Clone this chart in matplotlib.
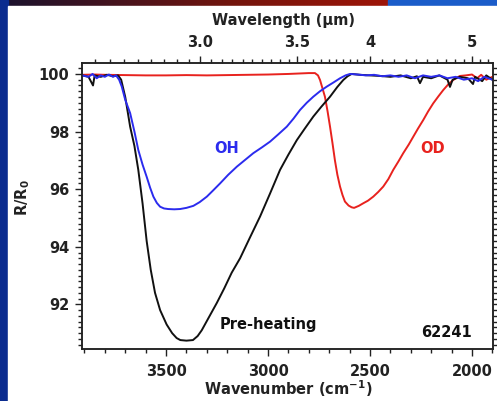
import numpy as np
import matplotlib
matplotlib.use("Agg")
import matplotlib.pyplot as plt
from matplotlib.patches import Rectangle
from matplotlib.ticker import MultipleLocator, FixedLocator, NullFormatter

# ---------------- data ----------------
pre_wn = [3910, 3880, 3858, 3850, 3820, 3790, 3760, 3735, 3720, 3700, 3676, 3655,
          3636, 3615, 3595, 3575, 3554, 3529, 3497, 3470, 3448, 3430, 3400, 3368,
          3345, 3325, 3290, 3251, 3215, 3178, 3137, 3090, 3039, 2990, 2941, 2900,
          2859, 2820, 2778, 2740, 2696, 2660, 2631, 2610, 2590, 2550, 2500, 2450,
          2400, 2350, 2300, 2270, 2255, 2240, 2200, 2160, 2120, 2108, 2095, 2060,
          2020, 1995, 1985, 1950, 1930, 1900]
pre_val = [99.95, 99.9, 99.6, 99.95, 99.9, 99.97, 99.92, 99.95, 99.8, 99.2, 98.17, 97.5,
           96.67, 95.5, 94.2, 93.2, 92.4, 91.8, 91.3, 91.0, 90.83, 90.76, 90.74, 90.76,
           90.9, 91.1, 91.55, 92.05, 92.55, 93.1, 93.6, 94.3, 95.05, 95.85, 96.67, 97.2,
           97.7, 98.1, 98.52, 98.85, 99.21, 99.55, 99.79, 99.92, 100.0, 99.97, 99.95, 99.93,
           99.9, 99.95, 99.85, 99.92, 99.68, 99.9, 99.85, 99.95, 99.8, 99.55, 99.8, 99.9,
           99.85, 99.65, 99.9, 99.75, 99.95, 99.8]

oh_wn = [3910, 3880, 3860, 3840, 3820, 3800, 3780, 3760, 3745, 3730, 3717, 3700, 3676,
         3655, 3636, 3615, 3595, 3578, 3562, 3545, 3529, 3510, 3490, 3460, 3431, 3400,
         3366, 3335, 3300, 3270, 3235, 3195, 3153, 3110, 3072, 3030, 2990, 2950, 2908,
         2875, 2843, 2810, 2778, 2745, 2712, 2680, 2647, 2620, 2598, 2560, 2520, 2480,
         2440, 2400, 2360, 2320, 2280, 2240, 2200, 2160, 2120, 2080, 2040, 2000, 1970,
         1940, 1900]
oh_val = [99.95, 99.9, 100.0, 99.85, 99.95, 99.9, 99.98, 99.9, 99.95, 99.8, 99.56, 99.1, 98.64,
          98.0, 97.36, 96.85, 96.43, 96.05, 95.74, 95.52, 95.39, 95.33, 95.31, 95.3, 95.31, 95.35,
          95.42, 95.55, 95.74, 95.95, 96.2, 96.5, 96.78, 97.03, 97.25, 97.45, 97.65, 97.9, 98.17,
          98.45, 98.75, 99.0, 99.21, 99.4, 99.56, 99.7, 99.85, 99.95, 100.0, 99.98, 99.95, 99.97,
          99.92, 99.95, 99.9, 99.95, 99.85, 99.95, 99.9, 99.95, 99.85, 99.9, 99.8, 99.85, 99.75,
          99.9, 99.8]

od_wn = [3910, 3850, 3800, 3700, 3600, 3500, 3400, 3300, 3200, 3100, 3000, 2900, 2800,
         2770, 2755, 2745, 2733, 2721, 2708, 2696, 2684, 2672, 2660, 2647, 2635, 2623,
         2605, 2590, 2578, 2555, 2533, 2510, 2484, 2460, 2435, 2410, 2386, 2360, 2337,
         2310, 2288, 2265, 2239, 2215, 2190, 2165, 2141, 2115, 2092, 2075, 2059, 2030,
         2000, 1975, 1955, 1930, 1900]
od_val = [99.97, 99.98, 99.97, 99.96, 99.95, 99.95, 99.96, 99.95, 99.96, 99.97, 99.98, 100.0, 100.03,
          100.03, 99.95, 99.79, 99.5, 99.21, 98.7, 98.17, 97.6, 97.0, 96.5, 96.09, 95.8, 95.57,
          95.43, 95.37, 95.35, 95.42, 95.51, 95.6, 95.74, 95.9, 96.09, 96.35, 96.67, 96.97, 97.25,
          97.55, 97.82, 98.1, 98.4, 98.7, 98.98, 99.22, 99.44, 99.65, 99.79, 99.87, 99.93, 99.95,
          99.98, 99.85, 99.97, 99.8, 99.9]

bottom_ticks = [3500, 3000, 2500, 2000]
bottom_labels = ["3500", "3000", "2500", "2000"]
top_ticks_um = [3.0, 3.5, 4.0, 5.0]
top_labels = ["3.0", "3.5", "4", "5"]
y_ticks = [92, 94, 96, 98, 100]

# ---------------- figure / background ----------------
W, H = 497, 401
fig = plt.figure(figsize=(W / 100, H / 100), dpi=100)
fig.patch.set_facecolor("#0b2c8f")

bg = fig.add_axes([0, 0, 1, 1], zorder=-5)
bg.set_xlim(0, W)
bg.set_ylim(H, 0)
bg.axis("off")
TOP_STRIP = 6
LEFT_STRIP = 8
grad = np.linspace(0, 1, 256)
c0 = np.array([0.10, 0.07, 0.18])
c1 = np.array([0.45, 0.08, 0.05])
c2 = np.array([0.62, 0.08, 0.03])
cols = np.where(grad[:, None] < 0.6,
                c0 + (c1 - c0) * (grad[:, None] / 0.6),
                c1 + (c2 - c1) * ((grad[:, None] - 0.6) / 0.4))
bg.imshow(cols[None, :, :], extent=(0, 388, TOP_STRIP, 0), aspect="auto", zorder=1)
bg.add_patch(Rectangle((388, 0), W - 388, TOP_STRIP, color="#1b5cc9", zorder=1))
bg.add_patch(Rectangle((0, 0), LEFT_STRIP, H, color="#0b2c8f", zorder=2))
bg.add_patch(Rectangle((LEFT_STRIP, TOP_STRIP), W - LEFT_STRIP, H - TOP_STRIP,
                       color="white", zorder=3))

# ---------------- main axes ----------------
left, right, top, bot = 82, 493, 63, 349
ax = fig.add_axes([left / W, (H - bot) / H, (right - left) / W, (bot - top) / H])
ax.set_facecolor("white")

ax.plot(od_wn, od_val, color="#e8221e", lw=1.4, zorder=3)
ax.plot(pre_wn, pre_val, color="#111111", lw=1.4, zorder=4)
ax.plot(oh_wn, oh_val, color="#2b2bee", lw=1.4, zorder=5)

ax.set_xlim(3912, 1897)
ax.set_ylim(90.45, 100.38)

ax.xaxis.set_major_locator(FixedLocator(bottom_ticks))
ax.set_xticklabels(bottom_labels)
ax.xaxis.set_minor_locator(MultipleLocator(100))
ax.yaxis.set_major_locator(FixedLocator(y_ticks))
ax.set_yticklabels([str(v) for v in y_ticks])
ax.yaxis.set_minor_locator(MultipleLocator(0.2))

for s in ax.spines.values():
    s.set_linewidth(1.1)
    s.set_color("#222222")

ax.tick_params(which="both", direction="out", color="#222222", width=1.0,
               labelsize=10.5, labelcolor="#222222", right=True, top=False)
ax.tick_params(which="major", length=5)
ax.tick_params(which="minor", length=3)
ax.tick_params(axis="x", which="major", pad=5.5)
ax.tick_params(axis="y", which="major", pad=4)
ax.tick_params(axis="y", which="both", labelright=False)
for lab in ax.get_xticklabels() + ax.get_yticklabels():
    lab.set_fontweight("bold")

# top wavelength axis
ax2 = ax.twiny()
ax2.set_xlim(ax.get_xlim())
ax2.xaxis.set_major_locator(FixedLocator([10000.0 / u for u in top_ticks_um]))
ax2.set_xticklabels(top_labels)
minor_um = [round(2.6 + 0.05 * i, 2) for i in range(0, 29)] + [round(4.1 + 0.1 * i, 1) for i in range(0, 12)]
ax2.xaxis.set_minor_locator(FixedLocator([10000.0 / u for u in minor_um]))
ax2.xaxis.set_minor_formatter(NullFormatter())
ax2.tick_params(which="both", direction="out", color="#222222", width=1.0,
                labelsize=10.5, labelcolor="#222222")
ax2.tick_params(which="major", length=5, pad=4.5)
ax2.tick_params(which="minor", length=3)
for lab in ax2.get_xticklabels():
    lab.set_fontweight("bold")
for s in ax2.spines.values():
    s.set_linewidth(1.1)
    s.set_color("#222222")

# labels
fig.text(283 / W, (H - 21) / H, "Wavelength (µm)", ha="center", va="center",
         fontsize=10.5, fontweight="bold", color="#222222")
fig.text(288 / W, (H - 389) / H, r"Wavenumber (cm$^{\mathregular{-1}}$)", ha="center",
         va="center", fontsize=10.5, fontweight="bold", color="#222222")
fig.text(23 / W, (H - 198) / H, r"R/R$_{\mathregular{0}}$", ha="center", va="center",
         rotation=90, fontsize=10.5, fontweight="bold", color="#222222")

ax.text(3201, 97.41, "OH", color="#2b2bee", fontsize=10.5, fontweight="bold",
        ha="center", va="center")
ax.text(2194, 97.41, "OD", color="#e8221e", fontsize=10.5, fontweight="bold",
        ha="center", va="center")
ax.text(3235, 91.30, "Pre-heating", color="#111111", fontsize=10.5, fontweight="bold",
        ha="left", va="center")
ax.text(2000, 91.04, "62241", color="#111111", fontsize=10.5, fontweight="bold",
        ha="right", va="center")

fig.savefig("out.png", dpi=100, facecolor=fig.get_facecolor())
